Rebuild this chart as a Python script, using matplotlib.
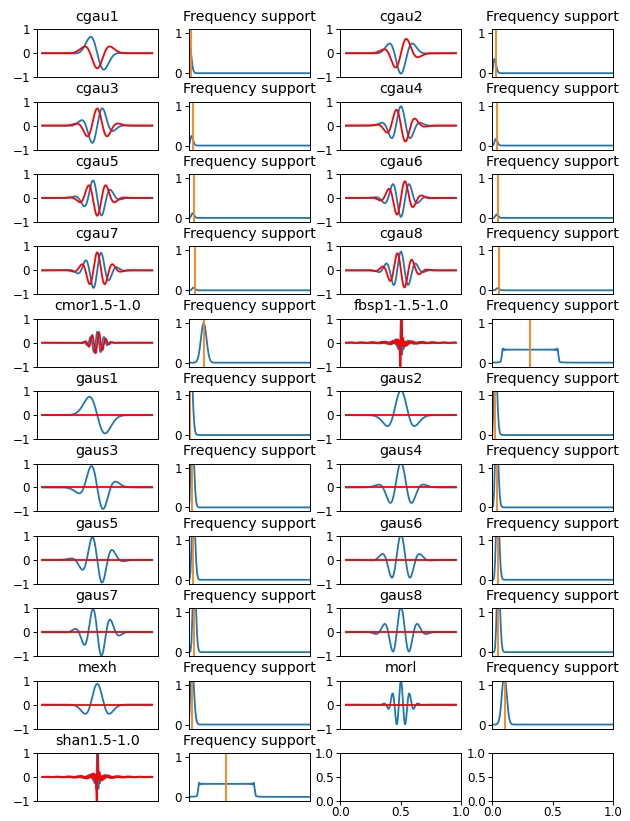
import numpy as np
import matplotlib.pyplot as plt

# continuous wavelets, in pywt.wavelist(kind='continuous') order
wavelets = ['cgau1', 'cgau2', 'cgau3', 'cgau4', 'cgau5', 'cgau6', 'cgau7', 'cgau8',
            'cmor1.5-1.0', 'fbsp1-1.5-1.0',
            'gaus1', 'gaus2', 'gaus3', 'gaus4', 'gaus5', 'gaus6', 'gaus7', 'gaus8',
            'mexh', 'morl', 'shan1.5-1.0']

# support [-b, b] of each family
support = {'cgau': 5, 'gaus': 5, 'cmor': 8, 'mexh': 8, 'morl': 8, 'fbsp': 20, 'shan': 20}

# pywt sign of the gaussian derivatives gaus1..gaus8
gaus_sign = [1, -1, -1, 1, 1, -1, -1, 1]

bandwidth = 1.5
centre = 1.0
spline_order = 1

n_points = 2 ** 10      # wavefun(10)
n_bins = 128            # frequency bins shown
fft_scale = 64.0


def gauss_deriv(t, p, cplx):
    # p-th derivative of exp(-t^2) (times exp(-it) for the complex one)
    dg = np.polynomial.Polynomial([-1j if cplx else 0, -2])
    P = np.polynomial.Polynomial([1 + 0j])
    for _ in range(p):
        P = P.deriv() + P * dg
    return P(t) * np.exp(-t ** 2 - (1j * t if cplx else 0))


def wavefun(name, n):
    fam = name[:4]
    b = support[fam]
    t = np.linspace(-b, b, n)
    if fam in ('cgau', 'gaus'):
        p = int(name[4:])
        psi = gauss_deriv(t, p, fam == 'cgau')
        psi = psi / np.sqrt(np.sum(np.abs(psi) ** 2) * (t[1] - t[0]))
        if fam == 'gaus':
            psi = gaus_sign[p - 1] * psi.real
    elif fam == 'cmor':
        psi = np.exp(-t ** 2 / bandwidth) * np.exp(2j * np.pi * centre * t) / np.sqrt(np.pi * bandwidth)
    elif fam == 'shan':
        psi = np.sqrt(bandwidth) * np.sinc(bandwidth * t) * np.exp(2j * np.pi * centre * t)
    elif fam == 'fbsp':
        psi = (np.sqrt(bandwidth) * np.sinc(bandwidth * t / spline_order) ** spline_order
               * np.exp(2j * np.pi * centre * t))
    elif fam == 'mexh':
        psi = 2 / (np.sqrt(3) * np.pi ** 0.25) * (1 - t ** 2) * np.exp(-t ** 2 / 2)
    else:  # morl
        psi = np.exp(-t ** 2 / 2) * np.cos(5 * t)
    return np.asarray(psi, dtype=complex), t


def central_frequency(name):
    if name[:4] in ('cmor', 'shan', 'fbsp'):
        return centre
    psi, x = wavefun(name, 2 ** 8)
    domain = x[-1] - x[0]
    index = np.argmax(np.abs(np.fft.fft(psi)[1:])) + 2
    if index > len(psi) / 2:
        index = len(psi) - index + 2
    return (index - 1) / domain


plt.rcParams['font.size'] = 8.6
plt.rcParams['axes.titlesize'] = 10.3
plt.rcParams['lines.linewidth'] = 1.3
plt.rcParams['axes.linewidth'] = 0.7
for a in ('xtick', 'ytick'):
    plt.rcParams[a + '.major.size'] = 2.6
    plt.rcParams[a + '.major.width'] = 0.7
    plt.rcParams[a + '.major.pad'] = 2.2
plt.rcParams['xtick.major.pad'] = 1.2

fig, axes = plt.subplots(11, 4, figsize=(6.3, 8.21))
fig.subplots_adjust(left=0.0583, right=0.9735, top=0.9643, bottom=0.0245,
                    wspace=0.2545, hspace=0.512)

for i, name in enumerate(wavelets):
    ax = axes[i // 2, (i % 2) * 2]
    ax2 = axes[i // 2, (i % 2) * 2 + 1]

    psi, x = wavefun(name, n_points)
    ax.plot(x, psi.real)
    ax.plot(x, psi.imag, 'r')
    ax.set_title(name)
    ax.set_ylim(-1, 1)
    ax.set_yticks([-1, 0, 1])
    ax.set_xticks([])

    spec = np.abs(np.fft.fft(psi))[:n_bins + 1] / fft_scale
    ax2.plot(np.arange(n_bins + 1), spec)
    ax2.axvline(central_frequency(name) * (x[-1] - x[0]), color='C1')
    ax2.set_title('Frequency support')
    ax2.set_xlim(0, n_bins)
    ax2.set_ylim(-0.1, 1.1)
    ax2.set_yticks([0, 1])
    ax2.set_xticks([])

# the two unused panels keep their default ticks
for ax in axes[-1, 2:]:
    ax.set_xticks([0, 0.5, 1])
    ax.set_yticks([0, 0.5, 1])

plt.savefig('out.png', dpi=100)
